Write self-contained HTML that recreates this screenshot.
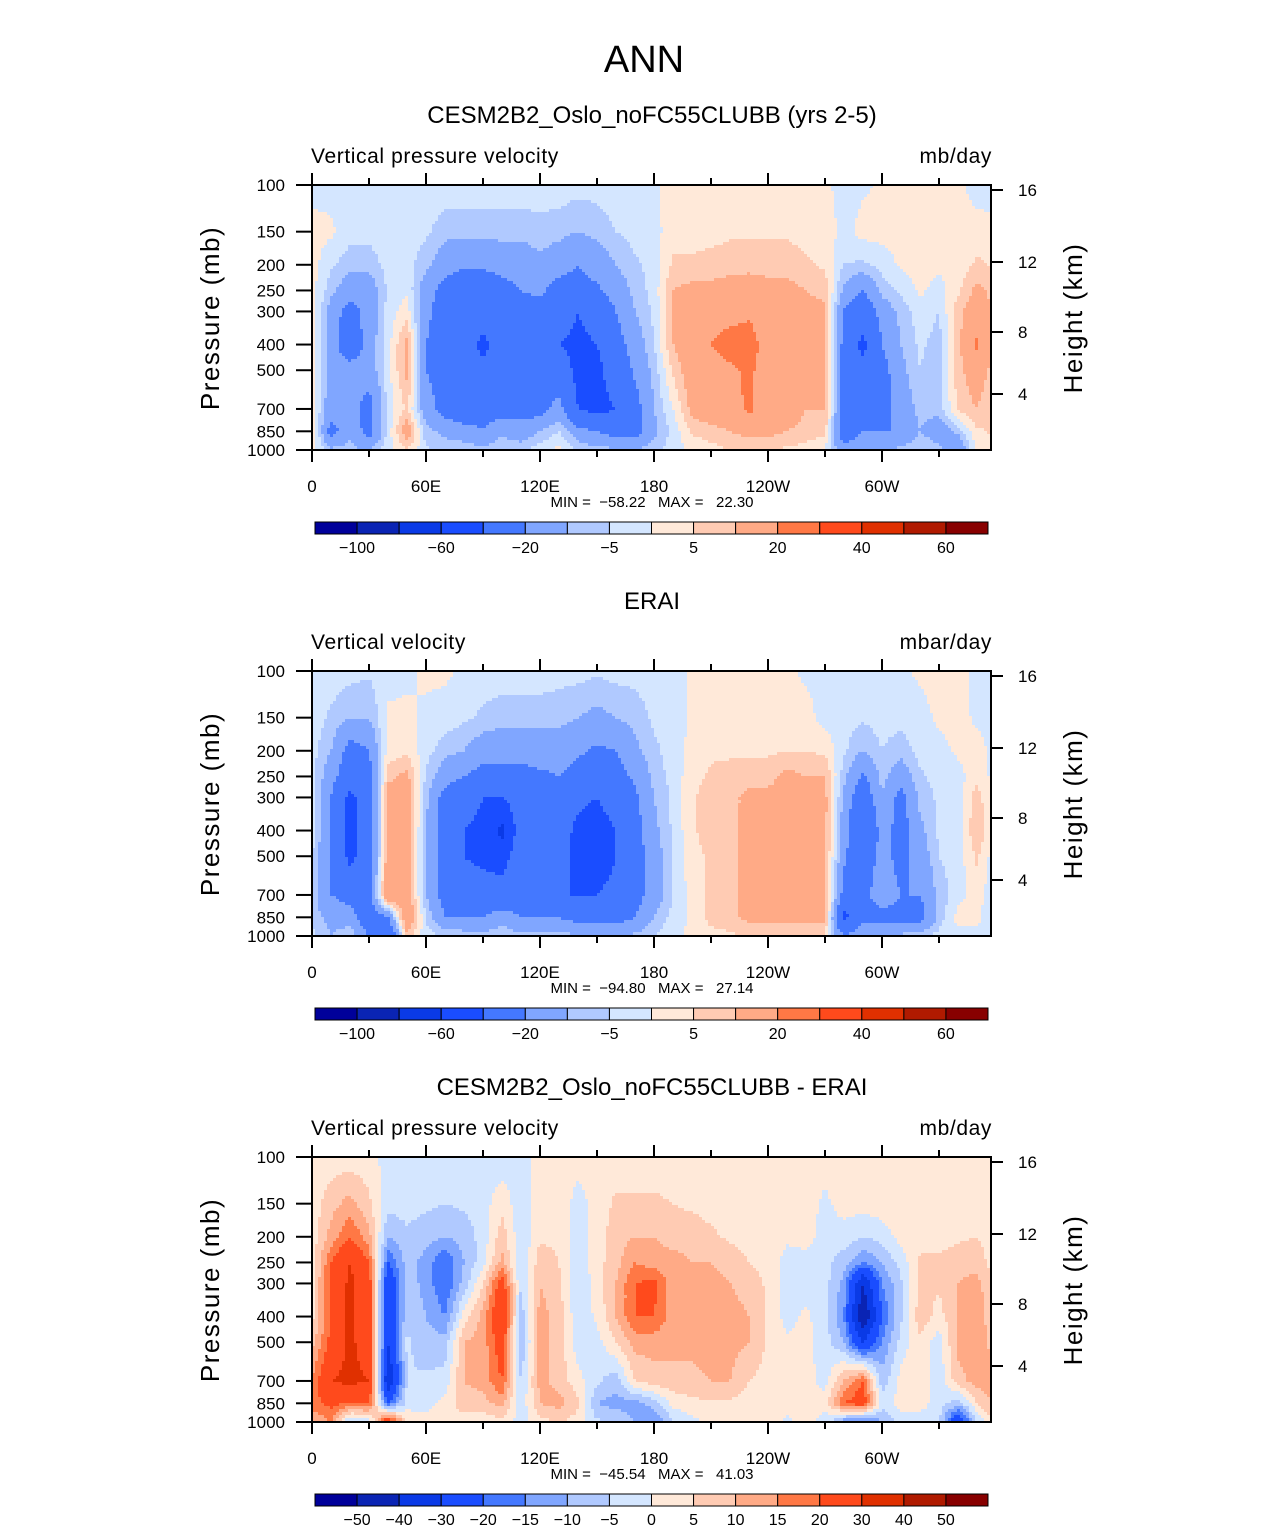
<!DOCTYPE html>
<html><head><meta charset="utf-8">
<style>
html,body{margin:0;padding:0;background:#fff;}
svg text{font-family:"Liberation Sans",sans-serif;fill:#000;}
.pre{white-space:pre;}
</style></head>
<body>
<svg id="fig" xmlns="http://www.w3.org/2000/svg" width="1285" height="1531" viewBox="0 0 1285 1531">
<rect width="1285" height="1531" fill="#fff"/>
<text x="644" y="72" font-size="38" text-anchor="middle">ANN</text>
</svg>
<script>
// ---- data ----
const lons = [0,10,20,30,40,50,60,70,80,90,100,110,120,130,140,150,160,170,180,190,200,210,220,230,240,250,260,270,280,290,300,310,320,330,340,350,360];
const levels = [100,150,200,250,300,400,500,700,850,1000];
const modelField = [
[-2,2,2,2,3,4,3,2,6,2],
[-2,1,-4,-8,-14,-15,-15,-15,-25,-8],
[-3,-3,-8,-15,-25,-30,-15,-15,-12,-8],
[-3,-3,-8,-15,-15,-15,-15,-25,-25,-10],
[-2,-2,-3,-4,-3,-2,-2,-3,-3,-2],
[-2,-3,-3,-1,3,12,12,6,15,5],
[-1,-4,-8,-15,-18,-20,-20,-15,-8,-4],
[-2,-8,-15,-25,-25,-25,-25,-25,-12,-6],
[-2,-8,-18,-30,-30,-30,-30,-30,-15,-6],
[-2,-8,-18,-30,-30,-45,-35,-30,-18,-8],
[-2,-8,-15,-25,-25,-30,-30,-25,-12,-5],
[-2,-8,-15,-20,-25,-30,-30,-25,-15,-6],
[-2,-7,-12,-18,-25,-30,-30,-25,-10,-2],
[-2,-8,-15,-25,-30,-40,-30,-15,-5,2],
[-3,-10,-20,-25,-40,-45,-45,-40,-15,-6],
[-3,-8,-15,-22,-30,-40,-45,-45,-20,-8],
[-2,-5,-10,-15,-20,-25,-30,-40,-25,-8],
[-2,-3,-6,-8,-10,-15,-18,-25,-25,-10],
[-1,-2,-3,-3,-4,-5,-8,-10,-12,-6],
[2,3,6,10,12,10,6,0,-3,-3],
[2,3,6,12,15,15,15,12,6,1],
[2,3,7,12,15,20,15,15,8,3],
[2,4,8,13,16,25,18,15,10,5],
[2,4,8,14,18,25,22,22,12,6],
[2,4,8,12,15,15,15,15,12,5],
[2,4,8,12,15,15,15,15,10,4],
[2,3,6,10,12,12,12,10,8,3],
[1,3,4,8,12,12,12,10,7,-1],
[-2,-2,-5,-12,-22,-25,-25,-25,-30,-15],
[-1,2,-6,-20,-30,-45,-35,-25,-20,-12],
[1,2,-3,-8,-15,-20,-25,-25,-20,-10],
[1,2,1,-4,-8,-10,-12,-15,-20,-8],
[1,2,2,1,-2,-4,-5,-8,-10,-5],
[1,2,1,-2,-5,-7,-8,-8,-15,-8],
[1,2,2,4,8,8,8,6,-8,-20],
[-2,2,6,12,15,22,15,10,4,2],
[-2,1,4,8,8,8,6,4,6,2]
];
const obsField = [
[-2,-2,-3,-3,-3,-3,-4,-5,-8,-3],
[-2,-6,-10,-15,-20,-20,-20,-20,-12,-10],
[-3,-10,-25,-30,-45,-45,-45,-25,-15,-5],
[-4,-10,-20,-25,-30,-30,-30,-25,-30,-20],
[-2,1,2,8,15,15,15,20,-20,-40],
[-1,1,4,12,15,15,15,15,20,8],
[1,-1,-3,-6,-8,-10,-10,-10,-5,-3],
[1,-2,-8,-15,-25,-25,-25,-25,-20,-5],
[-1,-4,-10,-20,-30,-40,-40,-30,-20,-6],
[-2,-6,-15,-25,-40,-45,-45,-30,-20,-8],
[-2,-8,-15,-25,-40,-65,-50,-30,-15,-4],
[-2,-8,-15,-25,-30,-30,-25,-25,-20,-8],
[-2,-8,-15,-22,-25,-30,-30,-30,-20,-8],
[-3,-8,-15,-20,-25,-30,-35,-40,-20,-8],
[-3,-10,-18,-25,-35,-45,-45,-40,-25,-8],
[-4,-12,-22,-30,-40,-50,-50,-40,-25,-8],
[-3,-10,-20,-25,-30,-40,-40,-35,-25,-10],
[-3,-8,-12,-18,-22,-25,-25,-25,-20,-8],
[-2,-4,-6,-8,-10,-12,-15,-15,-10,-5],
[-2,-3,-3,-3,-4,-4,-4,-5,-3,-1],
[1,1,2,3,4,4,3,2,1,1],
[1,2,4,6,8,8,6,6,7,3],
[1,2,4,7,8,8,8,8,8,4],
[1,2,4,8,12,12,12,12,12,5],
[1,2,4,8,12,12,12,12,12,5],
[1,2,5,12,12,12,12,12,12,5],
[-1,2,5,10,12,12,12,12,12,4],
[-2,-2,4,10,12,12,12,12,12,4],
[-2,-3,-4,-8,-12,-15,-18,-25,-45,-20],
[-2,-4,-10,-22,-30,-40,-30,-25,-25,-8],
[-2,-3,-5,-8,-10,-15,-15,-12,-25,-10],
[-1,-3,-8,-15,-25,-25,-25,-20,-25,-8],
[1,-2,-3,-6,-8,-12,-15,-20,-25,-6],
[2,1,-2,-3,-4,-4,-5,-8,-8,-3],
[2,2,1,-2,-3,-3,-3,-2,2,-2],
[-2,-1,2,3,8,10,6,3,2,-2],
[-2,-2,-2,-2,-3,-3,-4,-5,-8,-3]
];
const diffField = [
[2,2,2,2,3,3,8,15,18,10],
[2,8,12,20,22,22,22,30,22,15],
[2,12,20,30,32,32,32,32,20,-8],
[2,6,12,20,25,25,25,30,20,-5],
[-2,-3,-10,-20,-30,-30,-30,-40,-20,30],
[-1,-3,-6,-8,-7,-6,-4,-5,-3,5],
[-2,-4,-8,-12,-12,-10,-8,-4,-2,2],
[-2,-5,-10,-20,-20,-15,-8,-3,2,2],
[-2,-4,-8,-10,-8,2,10,10,8,2],
[-2,-2,-3,-2,5,12,12,12,8,2],
[-3,3,8,12,25,30,25,20,12,3],
[-2,-3,-4,-5,-5,-8,-10,-5,-4,-2],
[2,2,4,8,10,12,12,12,10,3],
[2,3,4,5,6,8,8,8,12,5],
[2,-2,-3,-4,-5,-4,-3,2,6,3],
[2,2,2,3,3,1,-2,-4,-10,-4],
[2,6,8,8,10,10,5,-8,-12,-6],
[2,6,10,15,20,20,12,5,-12,-10],
[2,6,10,12,22,20,12,8,-8,-15],
[2,5,8,12,12,12,12,8,2,-6],
[2,4,8,10,12,15,12,8,4,-2],
[2,3,6,10,12,15,15,10,4,2],
[1,2,4,8,10,12,12,10,4,2],
[2,2,3,5,8,10,10,5,2,2],
[2,2,2,3,4,4,4,3,2,2],
[2,2,1,-2,-2,-2,1,2,2,-1],
[2,2,2,-2,-2,1,2,2,2,2],
[2,-1,-2,-3,-3,-3,-3,-2,2,-2],
[2,2,-2,-8,-12,-15,-10,10,20,-15],
[2,2,-5,-15,-40,-50,-30,20,25,-20],
[2,3,-3,-10,-15,-20,-15,-8,-3,-10],
[2,4,2,-3,-6,-6,-3,2,2,-3],
[2,3,3,6,6,8,4,3,2,-2],
[2,2,3,6,6,3,-3,-3,-2,-5],
[2,2,4,8,10,10,12,8,-8,-30],
[2,2,5,8,12,15,15,12,5,-5],
[2,2,2,2,3,3,6,12,12,8]
];
const levsAbs = [-100,-80,-60,-40,-20,-10,-5,0,5,10,20,30,40,50,60];
const labAbs = ["","−100","","−60","","−20","","−5","","5","","20","","40","","60",""];
const levsDiff = [-50,-40,-30,-20,-15,-10,-5,0,5,10,15,20,30,40,50];
const labDiff = ["","−50","−40","−30","−20","−15","−10","−5","0","5","10","15","20","30","40","50",""];
const xTickLons = [0,60,120,180,240,300];
const xTickLabels = ["0","60E","120E","180","120W","60W"];
const pTicks = [100,150,200,250,300,400,500,700,850,1000];
const hTicks = [16,12,8,4];
const hTickY = [190,262,332,394];
const colors = ["#00009a","#0a24b4","#0a3ae6","#1a4dff","#4478ff","#80a6ff","#b0c9ff","#d4e6ff","#ffe9d9","#ffcbb3","#ffaa86","#ff7845","#ff4a1c","#e03000","#b01a00","#880000"];

// ---- layout ----
const NS="http://www.w3.org/2000/svg";
const svg=document.getElementById('fig');
const PX0=312, PX1=991, PH=265;
function xOf(lon){return PX0+lon*1.9;}
function yOf(p,top){return top+PH*Math.log10(p/100);}
function mk(tag,attrs,parent){const e=document.createElementNS(NS,tag);for(const k in attrs)e.setAttribute(k,attrs[k]);(parent||svg).appendChild(e);return e;}
function txt(x,y,s,size,anchor,parent,extra){const t=mk('text',Object.assign({x:x,y:y,'font-size':size,'text-anchor':anchor||'start'},extra||{}),parent);t.textContent=s;return t;}
function levelIndex(v,levs){let i=0;while(i<levs.length&&v>=levs[i])i++;return i;}
function sample(field,lon,p){
  let i=0;while(i<lons.length-2&&lon>lons[i+1])i++;
  const tx=Math.max(0,Math.min(1,(lon-lons[i])/(lons[i+1]-lons[i])));
  const lp=Math.log10(p);
  let j=0;while(j<levels.length-2&&p>levels[j+1])j++;
  const ty=Math.max(0,Math.min(1,(lp-Math.log10(levels[j]))/(Math.log10(levels[j+1])-Math.log10(levels[j]))));
  const a=field[i][j]*(1-tx)+field[i+1][j]*tx;
  const b=field[i][j+1]*(1-tx)+field[i+1][j+1]*tx;
  return a*(1-ty)+b*ty;
}
function cell(parent,x,y,w,h,c){
  const r=mk('rect',{x:x,y:y,width:w,height:h,fill:colors[c]},parent);
  
  
}

function panel(idx,top,title,left,right,field,levs,labs,minmax){
  const g=mk('g',{});
  
  
  const t1=txt(652,top-62,title,24,'middle',g);
  
  
  const t2=txt(311,top-22,left,21,'start',g,{'letter-spacing':'0.6'});
  
  
  const t3=txt(992,top-22,right,21,'end',g,{'letter-spacing':'0.6'});
  
  
  const cg=mk('g',{},g);
  
  
  const dx=3, dy=3;
  for(let y=top;y<top+PH;y+=dy){
    const yc=y+dy/2;
    const p=100*Math.pow(10,(yc-top)/PH);
    const h=Math.min(dy,top+PH-y)+0.6;
    let runStart=PX0, runC=-1;
    for(let x=PX0;x<PX1;x+=dx){
      const lon=(x+dx/2-PX0)/1.9;
      const c=levelIndex(sample(field,lon,p),levs);
      if(c!==runC){
        if(runC>=0) cell(cg,runStart,y,x-runStart+0.6,h,runC);
        runStart=x;runC=c;
      }
    }
    if(runC>=0) cell(cg,runStart,y,PX1-runStart,h,runC);
  }
  const fr=mk('rect',{x:PX0,y:top,width:PX1-PX0,height:PH,fill:'none',stroke:'#000','stroke-width':2},g);
  
  
  for(let lon=0;lon<360;lon+=30){
    const x=xOf(lon); const major=lon%60===0; const L=major?12:7;
    mk('line',{x1:x,y1:top,x2:x,y2:top-L,stroke:'#000','stroke-width':2},g);
    mk('line',{x1:x,y1:top+PH,x2:x,y2:top+PH+L,stroke:'#000','stroke-width':2},g);
  }
  xTickLons.forEach((lon,k)=>{const t=txt(xOf(lon),top+PH+42,xTickLabels[k],17,'middle',g);
    
    });
  pTicks.forEach(p=>{const y=yOf(p,top);
    mk('line',{x1:PX0,y1:y,x2:PX0-16,y2:y,stroke:'#000','stroke-width':2},g);
    const t=txt(285,y+6,String(p),17,'end',g);
    
    });
  hTicks.forEach((hh,k)=>{const y=hTickY[k]-185+top;
    mk('line',{x1:PX1,y1:y,x2:PX1+12,y2:y,stroke:'#000','stroke-width':2},g);
    const t=txt(1018,y+6,String(hh),17,'start',g);
    
    });
  const ya=txt(0,0,'Pressure (mb)',26,'middle',g,{transform:`translate(219,${top+133}) rotate(-90)`,'letter-spacing':'1.5'});
  
  
  const yb=txt(0,0,'Height (km)',26,'middle',g,{transform:`translate(1082,${top+133}) rotate(-90)`,'letter-spacing':'1.5'});
  
  
  const mm=txt(652,top+PH+57,minmax,15,'middle',g,{'class':'pre'});
  
  
  const cy=top+337, cx0=315, cw=(988-315)/16;
  const cb=mk('g',{},g);
  
  
  colors.forEach((c,k)=>{const r=mk('rect',{x:cx0+k*cw,y:cy,width:cw,height:12,fill:c,stroke:'#000','stroke-width':1},cb);
    
    });
  labs.forEach((s,k)=>{if(!s)return;const t=txt(cx0+k*cw,cy+31,s,16,'middle',cb);
    
    });
}
panel(1,185,'CESM2B2_Oslo_noFC55CLUBB (yrs 2-5)','Vertical pressure velocity','mb/day',modelField,levsAbs,labAbs,'MIN =  −58.22   MAX =   22.30');
panel(2,671,'ERAI','Vertical velocity','mbar/day',obsField,levsAbs,labAbs,'MIN =  −94.80   MAX =   27.14');
panel(3,1157,'CESM2B2_Oslo_noFC55CLUBB - ERAI','Vertical pressure velocity','mb/day',diffField,levsDiff,labDiff,'MIN =  −45.54   MAX =   41.03');
</script>
</body></html>
